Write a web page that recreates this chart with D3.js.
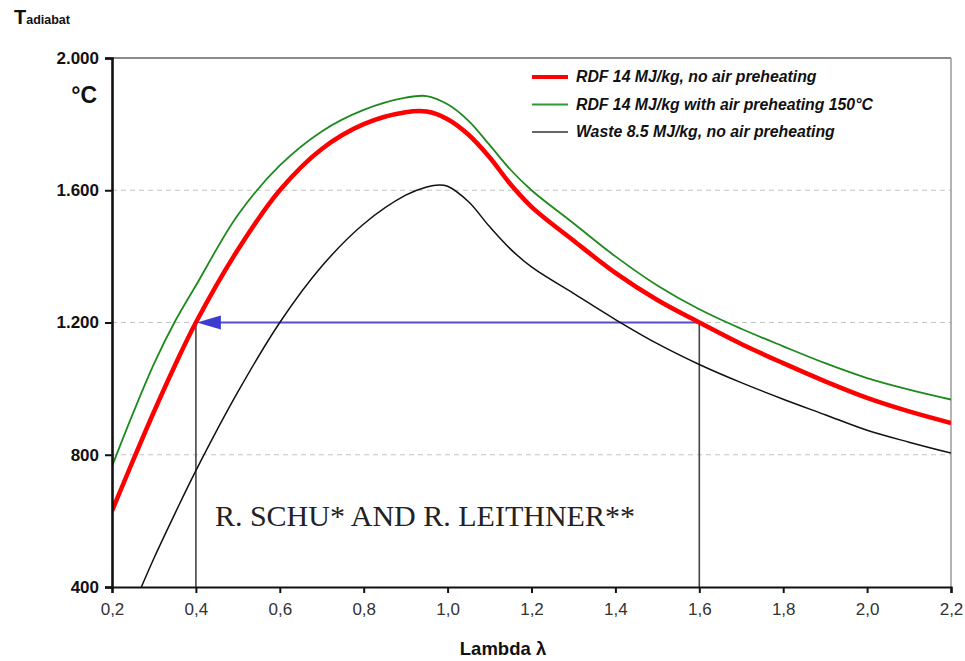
<!DOCTYPE html>
<html>
<head>
<meta charset="utf-8">
<script src="https://cdn.jsdelivr.net/npm/d3@7"></script>
<style>
  body { margin: 0; background: #fff; }
  text { font-family: Arial, "Liberation Sans", sans-serif; }
</style>
</head>
<body>
<div id="chart"></div>
<script>
const lambdas = [0.2, 0.25, 0.3, 0.35, 0.4, 0.5, 0.6, 0.7, 0.8, 0.9, 0.95, 1.0, 1.05, 1.1, 1.15, 1.2, 1.3, 1.4, 1.5, 1.6, 1.7, 1.8, 1.9, 2.0, 2.1, 2.2];

// RDF 14 MJ/kg, no air preheating
const rdfNoPreheat = [630, 782, 930, 1070, 1200, 1420, 1600, 1725, 1800, 1836, 1838, 1815, 1768, 1700, 1618, 1550, 1448, 1350, 1268, 1200, 1135, 1077, 1022, 972, 931, 896];
// RDF 14 MJ/kg with air preheating 150°C
const rdfPreheat = [765, 925, 1075, 1203, 1312, 1525, 1675, 1778, 1843, 1880, 1885, 1860, 1810, 1737, 1662, 1600, 1500, 1400, 1312, 1240, 1181, 1128, 1077, 1032, 997, 967];

// Waste 8.5 MJ/kg, no air preheating (starts at the bottom axis)
const wasteLambdas = [0.27, 0.3, 0.35, 0.4, 0.5, 0.6, 0.7, 0.8, 0.9, 0.95, 0.98, 1.0, 1.05, 1.1, 1.15, 1.2, 1.3, 1.4, 1.5, 1.6, 1.7, 1.8, 1.9, 2.0, 2.1, 2.2];
const waste = [400, 487, 622, 752, 990, 1200, 1370, 1498, 1585, 1610, 1616, 1612, 1565, 1490, 1422, 1368, 1288, 1209, 1136, 1073, 1018, 968, 921, 874, 838, 805];

const xTicks = [0.2, 0.4, 0.6, 0.8, 1.0, 1.2, 1.4, 1.6, 1.8, 2.0, 2.2];
const yTicks = [400, 800, 1200, 1600, 2000];
const gridValues = [800, 1200, 1600];

const seriesNames = ['RDF 14 MJ/kg, no air preheating', 'RDF 14 MJ/kg with air preheating 150°C', 'Waste 8.5 MJ/kg, no air preheating'];

// annotation: same temperature reached at two air ratios
const markLevel = 1200;
const markLambdas = [0.4, 1.6];
const authorText = 'R. SCHU* AND R. LEITHNER**';

const config = {
    width: 965,
    height: 661,
    margin: { top: 58, right: 14, bottom: 74, left: 112 }
};

const w = config.width - config.margin.left - config.margin.right;
const h = config.height - config.margin.top - config.margin.bottom;

// German style numbers: 2.000 and 0,2
const locale = d3.formatLocale({ decimal: ',', thousands: '.', grouping: [3], currency: ['', ' €'] });

const svg = d3.select('#chart').append('svg')
    .attr('width', config.width)
    .attr('height', config.height);

const g = svg.append('g')
    .attr('transform', `translate(${config.margin.left},${config.margin.top})`);

const xScale = d3.scaleLinear().domain([0.2, 2.2]).range([0, w]);
const yScale = d3.scaleLinear().domain([400, 2000]).range([h, 0]);

// dashed grid
g.selectAll('.grid')
    .data(gridValues)
    .join('line')
    .attr('class', 'grid')
    .attr('x1', 0).attr('x2', w)
    .attr('y1', d => yScale(d)).attr('y2', d => yScale(d))
    .attr('stroke', '#c4c4c4')
    .attr('stroke-width', 1.2)
    .attr('stroke-dasharray', '5,4');

// grey frame top and right
g.append('line')
    .attr('x1', 0).attr('x2', w)
    .attr('y1', yScale(2000)).attr('y2', yScale(2000))
    .attr('stroke', '#8a8a8a').attr('stroke-width', 2);
g.append('line')
    .attr('x1', w).attr('x2', w)
    .attr('y1', 0).attr('y2', h)
    .attr('stroke', '#9a9a9a').attr('stroke-width', 1.5);

// annotation lines (drawn under the curves)
g.selectAll('.drop')
    .data(markLambdas)
    .join('line')
    .attr('class', 'drop')
    .attr('x1', d => xScale(d)).attr('x2', d => xScale(d))
    .attr('y1', yScale(markLevel)).attr('y2', yScale(400))
    .attr('stroke', '#444').attr('stroke-width', 1.6);

g.append('line')
    .attr('x1', xScale(markLambdas[1]))
    .attr('x2', xScale(markLambdas[0]) + 20)
    .attr('y1', yScale(markLevel)).attr('y2', yScale(markLevel))
    .attr('stroke', '#5050c8').attr('stroke-width', 2.2);

const ax = xScale(markLambdas[0]) + 1;
const ay = yScale(markLevel);
g.append('path')
    .attr('d', `M${ax},${ay} L${ax + 24},${ay - 7} L${ax + 24},${ay + 7} Z`)
    .attr('fill', '#3c3cd0');

g.append('text')
    .attr('x', xScale(0.4) + 19)
    .attr('y', yScale(585))
    .style('font-family', '"Liberation Serif", "Times New Roman", serif')
    .attr('font-size', 30)
    .attr('fill', '#222')
    .text(authorText);

// curves
g.append('clipPath').attr('id', 'plot-clip')
    .append('rect').attr('width', w).attr('height', h);

const line = d3.line()
    .x(d => xScale(d[0]))
    .y(d => yScale(d[1]))
    .curve(d3.curveCatmullRom.alpha(0.5));

const curves = [
    { data: d3.zip(wasteLambdas, waste), color: '#111', width: 1.5 },
    { data: d3.zip(lambdas, rdfPreheat), color: '#1e8a1e', width: 1.8 },
    { data: d3.zip(lambdas, rdfNoPreheat), color: '#ff0000', width: 4.5 }
];

g.selectAll('.curve')
    .data(curves)
    .join('path')
    .attr('class', 'curve')
    .attr('clip-path', 'url(#plot-clip)')
    .attr('fill', 'none')
    .attr('stroke', d => d.color)
    .attr('stroke-width', d => d.width)
    .attr('d', d => line(d.data));

// axes
const xAxis = d3.axisBottom(xScale)
    .tickValues(xTicks)
    .tickSize(6)
    .tickPadding(10)
    .tickFormat(locale.format('.1f'));

const yAxis = d3.axisLeft(yScale)
    .tickValues(yTicks)
    .tickSize(7)
    .tickPadding(6)
    .tickFormat(locale.format(',.0f'));

const xg = g.append('g')
    .attr('transform', `translate(0,${h})`)
    .call(xAxis);
xg.select('.domain').attr('stroke', '#111').attr('stroke-width', 2.2);
xg.selectAll('.tick line').attr('stroke', '#111').attr('stroke-width', 2);
xg.selectAll('.tick text')
    .attr('font-size', 17)
    .attr('fill', '#333');

const yg = g.append('g').call(yAxis);
yg.select('.domain').attr('stroke', '#111').attr('stroke-width', 2.6);
yg.selectAll('.tick line').attr('stroke', '#111').attr('stroke-width', 2);
yg.selectAll('.tick text')
    .attr('font-size', 17)
    .attr('font-weight', 'bold')
    .attr('fill', '#111');

// axis titles
svg.append('text')
    .attr('x', 97)
    .attr('y', 103)
    .attr('text-anchor', 'end')
    .attr('font-size', 23)
    .attr('font-weight', 'bold')
    .attr('fill', '#111')
    .text('°C');

const yTitle = svg.append('text')
    .attr('x', 14)
    .attr('y', 24)
    .attr('font-weight', 'bold')
    .attr('fill', '#111');
yTitle.append('tspan').attr('font-size', 20).text('T');
yTitle.append('tspan').attr('font-size', 12.5).text('adiabat');

svg.append('text')
    .attr('x', 503)
    .attr('y', 655)
    .attr('text-anchor', 'middle')
    .attr('font-size', 18.5)
    .attr('font-weight', 'bold')
    .attr('fill', '#111')
    .text('Lambda λ');

// legend
const legendColors = ['#ff0000', '#2e9a2e', '#666'];
const legendWidths = [4, 2.2, 2.2];
const legend = svg.append('g').attr('transform', 'translate(532,77)');
const items = legend.selectAll('.legend-item')
    .data(seriesNames)
    .join('g')
    .attr('class', 'legend-item')
    .attr('transform', (d, i) => `translate(0,${i * 27.5})`);
items.append('line')
    .attr('x1', 0).attr('x2', 36)
    .attr('stroke', (d, i) => legendColors[i])
    .attr('stroke-width', (d, i) => legendWidths[i]);
items.append('text')
    .attr('x', 44)
    .attr('y', 5)
    .attr('font-size', 15.8)
    .attr('font-weight', 'bold')
    .attr('font-style', 'italic')
    .attr('fill', '#111')
    .text(d => d);
</script>
</body>
</html>
